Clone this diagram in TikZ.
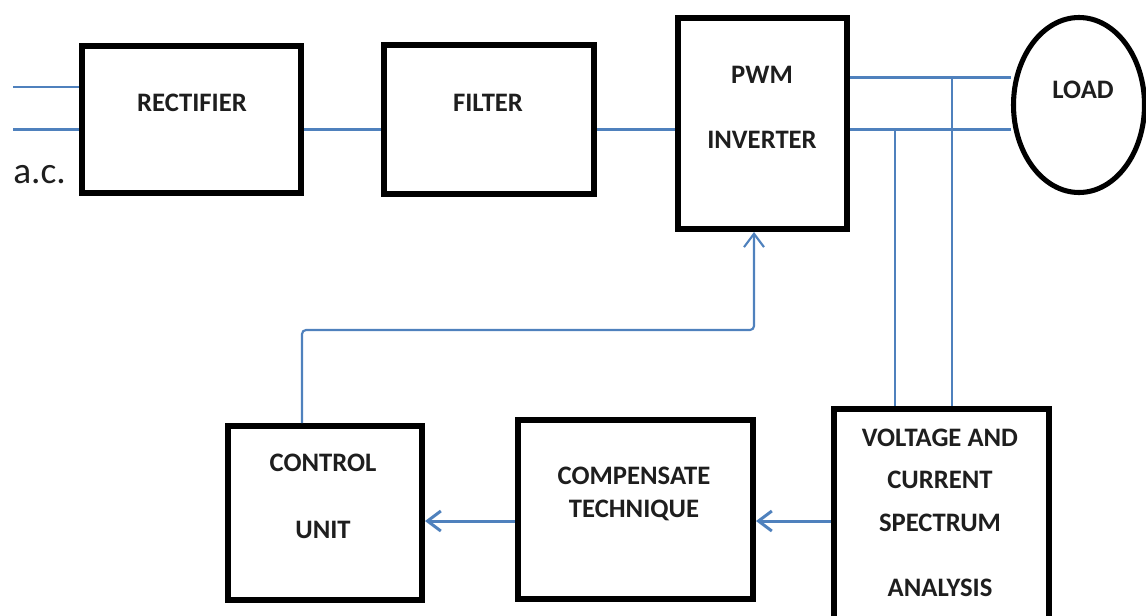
\documentclass[tikz,border=0pt]{standalone}
\usepackage{fontspec}
\setmainfont{Carlito}
\usetikzlibrary{arrows.meta,shapes.geometric}
\definecolor{wire}{RGB}{79,129,189}
\definecolor{ink}{RGB}{30,30,30}
\begin{document}
\begin{tikzpicture}[x=0.75pt,y=-0.75pt,
  blk/.style={draw=black,line width=4.5pt,inner sep=0pt,fill=white},
  lbl/.style={text=ink,font=\fontsize{20}{24}\selectfont\bfseries,inner sep=0pt,anchor=center},
  wire/.style={draw=wire,line width=2.25pt},
  thinwire/.style={draw=wire,line width=1.6pt},
  arr/.style={-{Straight Barb[length=10pt,width=15pt]}}]
\useasboundingbox (0,0) rectangle (1146,615);
\clip (0,0) rectangle (1146,615);
% blocks
\node[blk,minimum width=164.25pt,minimum height=110.25pt] (rect) at (191.5,119.5) {};
\node[blk,minimum width=157.5pt,minimum height=111.75pt] (filter) at (489,119.5) {};
\node[blk,minimum width=126.75pt,minimum height=158.25pt] (pwm) at (762.5,123.5) {};
\node[blk,ellipse,line width=3.8pt,minimum width=98.25pt,minimum height=131.25pt] (load) at (1079,105) {};
\node[blk,minimum width=161.25pt,minimum height=173.25pt] (vcs) at (941.5,524.5) {};
\node[blk,minimum width=176.25pt,minimum height=134.25pt] (comp) at (635.5,509.5) {};
\node[blk,minimum width=145.5pt,minimum height=130.5pt] (ctrl) at (325,513) {};
% labels
\node[lbl] (trect) at (192,103) {RECTIFIER};
\node[lbl] (tfilter) at (488,103) {FILTER};
\node[lbl] (tpwm1) at (762,75) {PWM};
\node[lbl] (tpwm2) at (762,140) {INVERTER};
\node[lbl] (tload) at (1083,90) {LOAD};
\node[lbl] (tv1) at (940,438) {VOLTAGE AND};
\node[lbl] (tv2) at (940,480) {CURRENT};
\node[lbl] (tv3) at (940,523) {SPECTRUM};
\node[lbl] (tv4) at (940,588) {ANALYSIS};
\node[lbl] (tc1) at (634,476) {COMPENSATE};
\node[lbl] (tc2) at (634,510) {TECHNIQUE};
\node[lbl] (tu1) at (323,463) {CONTROL};
\node[lbl] (tu2) at (323,530) {UNIT};
\node[text=ink,font=\fontsize{28}{32}\selectfont,inner sep=0pt,anchor=west] (tac) at (13,175) {a.c.};
% coordinates
\coordinate (acA) at (13,87);
\coordinate (acB) at (13,129);
\coordinate (yA) at (0,77);
\coordinate (v1) at (895,129);
\coordinate (v2) at (952,77);
\coordinate (ya) at (0,521);
\coordinate (fb) at (302,330);
\coordinate (fc) at (754,330);
% connectors
\draw[thinwire] (acA) -- (acA -| rect.west);
\draw[wire] (acB) -- (acB -| rect.west);
\draw[wire] (acB -| rect.east) -- (acB -| filter.west);
\draw[wire] (acB -| filter.east) -- (acB -| pwm.west);
\draw[wire] (yA -| pwm.east) -- (yA -| load.west);
\draw[wire] (acB -| pwm.east) -- (acB -| load.west);
\draw[thinwire] (v1) -- (v1 |- vcs.north);
\draw[thinwire] (v2) -- (v2 |- vcs.north);
\draw[wire,arr] (ya -| vcs.west) -- (ya -| comp.east);
\draw[wire,arr] (ya -| comp.west) -- (ya -| ctrl.east);
\draw[thinwire,arr,rounded corners=3pt] (fb |- ctrl.north) -- (fb) -- (fc) -- (fc |- pwm.south);
\end{tikzpicture}
\end{document}
